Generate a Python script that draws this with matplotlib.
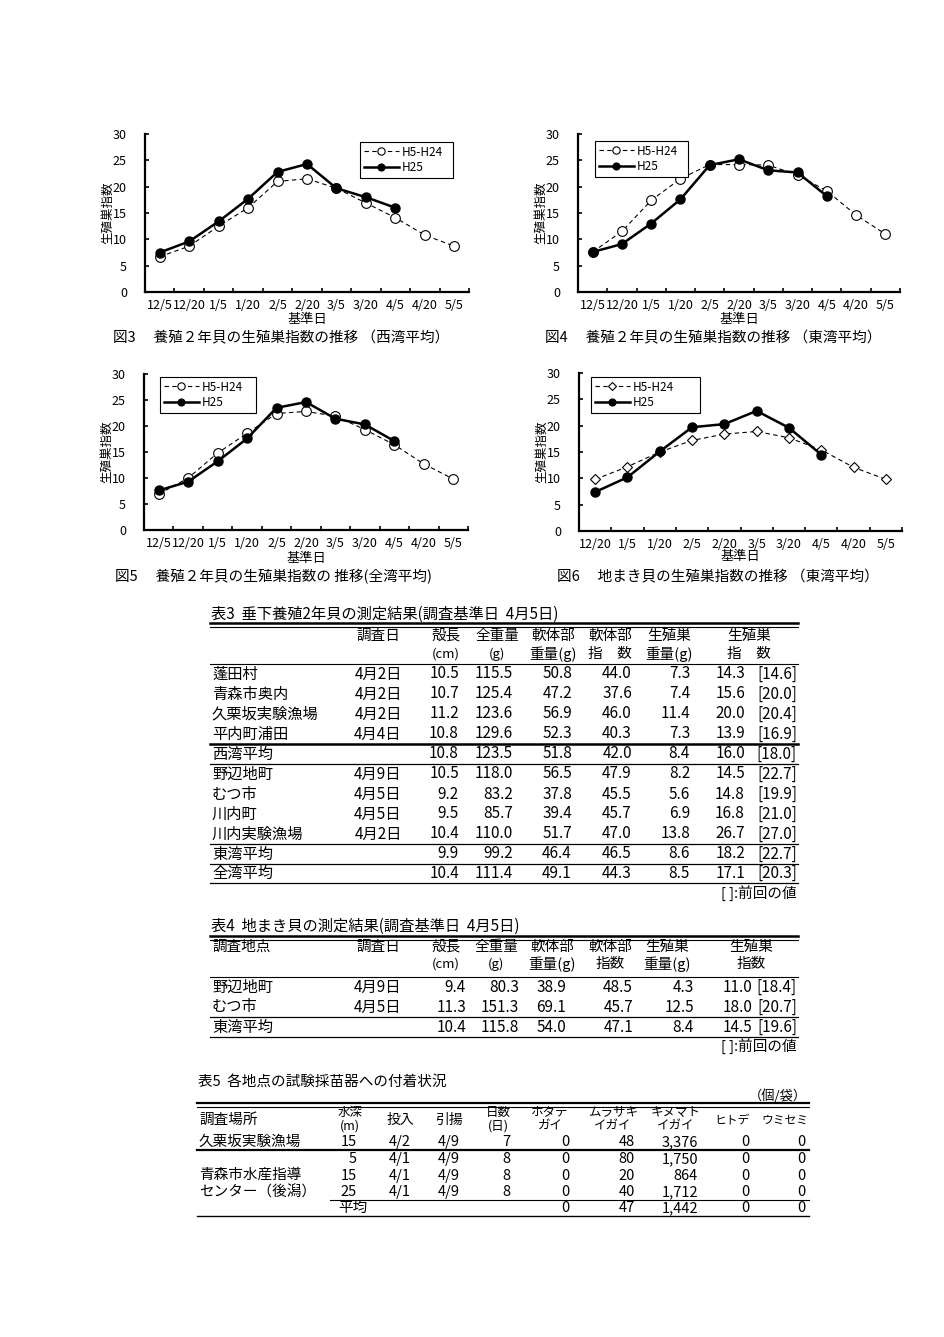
import numpy as np
import matplotlib
matplotlib.use("Agg")
import matplotlib.pyplot as plt
from matplotlib.lines import Line2D

plt.rcParams['font.family'] = ['Noto Sans CJK JP', 'DejaVu Sans']

# ---- chart data (生殖巣指数) ----
dates_a = ['12/5', '12/20', '1/5', '1/20', '2/5', '2/20', '3/5', '3/20', '4/5', '4/20', '5/5']
dates_b = ['12/20', '1/5', '1/20', '2/5', '2/20', '3/5', '3/20', '4/5', '4/20', '5/5']

west_past = [6.7, 8.7, 12.5, 16.0, 21.0, 21.5, 19.7, 16.9, 14.1, 10.8, 8.7]
west_h25 = [7.5, 9.6, 13.4, 17.7, 22.8, 24.3, 19.7, 18.0, 16.0]
east_past = [7.6, 11.5, 17.4, 21.5, 24.2, 24.2, 24.1, 22.2, 19.2, 14.6, 11.0]
east_h25 = [7.6, 9.1, 13.0, 17.6, 24.1, 25.2, 23.1, 22.7, 18.2]
all_past = [6.9, 10.0, 14.8, 18.6, 22.4, 22.8, 21.9, 19.3, 16.4, 12.7, 9.8]
all_h25 = [7.6, 9.3, 13.2, 17.6, 23.5, 24.6, 21.4, 20.3, 17.1]
jimaki_past = [9.8, 12.2, 15.0, 17.2, 18.4, 18.9, 17.7, 15.4, 12.1, 9.8]
jimaki_h25 = [7.4, 10.2, 15.1, 19.7, 20.3, 22.8, 19.6, 14.5]

# ---- table 3 ----
t3_sites = ['蓬田村', '青森市奥内', '久栗坂実験漁場', '平内町浦田', '西湾平均',
            '野辺地町', 'むつ市', '川内町', '川内実験漁場', '東湾平均', '全湾平均']
t3_dates = ['4月2日', '4月2日', '4月2日', '4月4日', '', '4月9日', '4月5日', '4月5日', '4月2日', '', '']
t3_shell = [10.5, 10.7, 11.2, 10.8, 10.8, 10.5, 9.2, 9.5, 10.4, 9.9, 10.4]
t3_total = [115.5, 125.4, 123.6, 129.6, 123.5, 118.0, 83.2, 85.7, 110.0, 99.2, 111.4]
t3_soft = [50.8, 47.2, 56.9, 52.3, 51.8, 56.5, 37.8, 39.4, 51.7, 46.4, 49.1]
t3_soft_idx = [44.0, 37.6, 46.0, 40.3, 42.0, 47.9, 45.5, 45.7, 47.0, 46.5, 44.3]
t3_gonad = [7.3, 7.4, 11.4, 7.3, 8.4, 8.2, 5.6, 6.9, 13.8, 8.6, 8.5]
t3_gsi = [14.3, 15.6, 20.0, 13.9, 16.0, 14.5, 14.8, 16.8, 26.7, 18.2, 17.1]
t3_prev = [14.6, 20.0, 20.4, 16.9, 18.0, 22.7, 19.9, 21.0, 27.0, 22.7, 20.3]

# ---- table 4 ----
t4_sites = ['野辺地町', 'むつ市', '東湾平均']
t4_dates = ['4月9日', '4月5日', '']
t4_shell = [9.4, 11.3, 10.4]
t4_total = [80.3, 151.3, 115.8]
t4_soft = [38.9, 69.1, 54.0]
t4_soft_idx = [48.5, 45.7, 47.1]
t4_gonad = [4.3, 12.5, 8.4]
t4_gsi = [11.0, 18.0, 14.5]
t4_prev = [18.4, 20.7, 19.6]

# ---- table 5 ----
t5_depth = [15, 5, 15, 25]
t5_in = ['4/2', '4/1', '4/1', '4/1']
t5_out = ['4/9', '4/9', '4/9', '4/9']
t5_days = [7, 8, 8, 8]
t5_hotate = [0, 0, 0, 0]
t5_murasaki = [48, 80, 20, 40]
t5_kinumato = [3376, 1750, 864, 1712]
t5_hitode = [0, 0, 0, 0]
t5_umisemi = [0, 0, 0, 0]
t5_mean = [0, 47, 1442, 0, 0]

W, H = 944, 1337
fig = plt.figure(figsize=(W / 100, H / 100), dpi=100)


def fx(x):
    return x / W


def fy(y):
    return 1 - y / H


def put(x, y, s, ha='left', size=11, **kw):
    fig.text(fx(x), fy(y), s, ha=ha, va='center', fontsize=size, **kw)


def hline(x0, x1, y, lw=0.8):
    fig.add_artist(Line2D([fx(x0), fx(x1)], [fy(y), fy(y)], color='black',
                          lw=lw, transform=fig.transFigure))


def draw_chart(box, cats, past, h25, mk, caption, cap_x, cap_y, xlab_y, leg_box):
    l, t, r, b = box
    ax = fig.add_axes([fx(l), fy(b), fx(r) - fx(l), fy(t) - fy(b)])
    x = np.arange(len(cats))
    ax.plot(x[:len(past)], past, ls=(0, (4, 3)), lw=0.8, color='black', marker=mk,
            ms=7 if mk == 'o' else 5, mfc='white', mec='black', mew=0.8, label='H5-H24')
    ax.plot(x[:len(h25)], h25, '-', lw=1.8, color='black', marker='o', ms=6.5, label='H25')
    ax.set_xlim(-0.5, len(cats) - 0.5)
    ax.set_ylim(0, 30)
    ax.set_yticks(range(0, 31, 5))
    ax.set_xticks(x)
    ax.set_xticklabels(cats)
    ax.set_xticks(x + 0.5, minor=True)
    ax.tick_params(axis='x', which='major', length=0, pad=5, labelsize=9)
    ax.tick_params(axis='x', which='minor', direction='in', length=3, width=1.2)
    ax.tick_params(axis='y', direction='in', length=3, width=1.2, pad=13, labelsize=9)
    for s in ['top', 'right']:
        ax.spines[s].set_visible(False)
    for s in ['left', 'bottom']:
        ax.spines[s].set_linewidth(1.6)
    ax.patch.set_alpha(0)
    put(l - 37, (t + b) / 2, '生殖巣指数', ha='center', size=9, rotation=90)
    put((l + r) / 2, xlab_y, '基準日', ha='center', size=9.5)
    put(cap_x, cap_y, caption, size=10.5)
    lx0, ly0, lx1, ly1 = leg_box
    leg = ax.legend(loc='upper left',
                    bbox_to_anchor=(fx(lx0), fy(ly1), fx(lx1) - fx(lx0), fy(ly0) - fy(ly1)),
                    bbox_transform=fig.transFigure, mode='expand', borderaxespad=0, fontsize=8.5,
                    handlelength=3.0, handletextpad=0.2, labelspacing=0.25, borderpad=0.3,
                    markerscale=0.75, fancybox=False, framealpha=1, edgecolor='black')
    leg.get_frame().set_linewidth(0.8)


draw_chart((145, 134, 469, 292), dates_a, west_past, west_h25, 'o',
           '図3　 養殖２年貝の生殖巣指数の推移 （西湾平均）', 113, 338, 320, (360, 142, 453, 176))
draw_chart((578, 134, 900, 292), dates_a, east_past, east_h25, 'o',
           '図4　 養殖２年貝の生殖巣指数の推移 （東湾平均）', 545, 338, 320, (595, 141, 688, 169))
draw_chart((144, 374, 468, 530), dates_a, all_past, all_h25, 'o',
           '図5　 養殖２年貝の生殖巣指数の 推移(全湾平均)', 115, 577, 558, (160, 377, 256, 405))
draw_chart((579, 373, 902, 531), dates_b, jimaki_past, jimaki_h25, 'D',
           '図6　 地まき貝の生殖巣指数の推移 （東湾平均）', 557, 577, 557, (591, 377, 700, 403))

# ---- table 3 ----
put(211, 614, '表3  垂下養殖2年貝の測定結果(調査基準日  4月5日)', size=11)
hline(210, 798, 623, lw=1.8)
hline(210, 798, 626.5, lw=0.8)
for cx, a, bb in [(378, '調査日', ''), (446, '殻長', '(cm)'), (497, '全重量', '(g)'),
                  (553, '軟体部', '重量(g)'), (610, '軟体部', '指　数'),
                  (669, '生殖巣', '重量(g)'), (749, '生殖巣', '指　数')]:
    put(cx, 636, a, ha='center', size=10.5)
    if bb:
        put(cx, 654, bb, ha='center', size=9.5 if bb.startswith('(') else 10.5)
hline(210, 798, 664, lw=0.8)
t3_y = [674, 694, 714, 734, 754, 774, 794, 814, 834, 854, 873]
for i, y in enumerate(t3_y):
    put(212, y, t3_sites[i], size=11)
    if t3_dates[i]:
        put(378, y, t3_dates[i], ha='center', size=11)
    put(459, y, f'{t3_shell[i]:.1f}', ha='right', size=11)
    put(513, y, f'{t3_total[i]:.1f}', ha='right', size=11)
    put(572, y, f'{t3_soft[i]:.1f}', ha='right', size=11)
    put(632, y, f'{t3_soft_idx[i]:.1f}', ha='right', size=11)
    put(690, y, f'{t3_gonad[i]:.1f}', ha='right', size=11)
    put(745, y, f'{t3_gsi[i]:.1f}', ha='right', size=11)
    put(797, y, f'[{t3_prev[i]:.1f}]', ha='right', size=11)
hline(210, 798, 744, lw=1.8)
for y in [764, 844, 864, 883]:
    hline(210, 798, y, lw=0.9)
put(797, 893, '[ ]:前回の値', ha='right', size=10.5)

# ---- table 4 ----
put(211, 926, '表4  地まき貝の測定結果(調査基準日  4月5日)', size=11)
hline(210, 798, 936, lw=1.8)
hline(210, 798, 939.5, lw=0.8)
put(212, 947, '調査地点', size=10.5)
for cx, a, bb in [(378, '調査日', ''), (446, '殻長', '(cm)'), (496, '全重量', '(g)'),
                  (552, '軟体部', '重量(g)'), (610, '軟体部', '指数'),
                  (667, '生殖巣', '重量(g)'), (751, '生殖巣', '指数')]:
    put(cx, 947, a, ha='center', size=10.5)
    if bb:
        put(cx, 964, bb, ha='center', size=9.5 if bb.startswith('(') else 10.5)
hline(210, 798, 977, lw=0.8)
t4_y = [987, 1007, 1027]
for i, y in enumerate(t4_y):
    put(212, y, t4_sites[i], size=11)
    if t4_dates[i]:
        put(378, y, t4_dates[i], ha='center', size=11)
    put(466, y, f'{t4_shell[i]:.1f}', ha='right', size=11)
    put(519, y, f'{t4_total[i]:.1f}', ha='right', size=11)
    put(566, y, f'{t4_soft[i]:.1f}', ha='right', size=11)
    put(633, y, f'{t4_soft_idx[i]:.1f}', ha='right', size=11)
    put(694, y, f'{t4_gonad[i]:.1f}', ha='right', size=11)
    put(752, y, f'{t4_gsi[i]:.1f}', ha='right', size=11)
    put(797, y, f'[{t4_prev[i]:.1f}]', ha='right', size=11)
hline(210, 798, 1017, lw=0.9)
hline(210, 798, 1037, lw=0.9)
put(797, 1046, '[ ]:前回の値', ha='right', size=10.5)

# ---- table 5 ----
put(198, 1082, '表5  各地点の試験採苗器への付着状況', size=10.5)
put(807, 1096, '（個/袋）', ha='right', size=9.5)
hline(197, 809, 1103, lw=1.6)
hline(197, 809, 1106.5, lw=0.8)
put(199, 1120, '調査場所', size=10.5)
for cx, a, bb in [(350, '水深', '(m)'), (498, '日数', '(日)'), (550, 'ホタテ', 'ガイ'),
                  (613, 'ムラサキ', 'イガイ'), (676, 'キヌマト', 'イガイ')]:
    put(cx, 1112, a, ha='center', size=9)
    put(cx, 1126, bb, ha='center', size=9)
for cx, a in [(400, '投入'), (449, '引揚'), (732, 'ヒトデ'), (785, 'ウミセミ')]:
    put(cx, 1120, a, ha='center', size=10 if len(a) == 2 else 8.5)
t5_y = [1142, 1159, 1176, 1192]
put(199, 1142, '久栗坂実験漁場', size=10.5)
put(199, 1175, '青森市水産指導', size=10.5)
put(199, 1192, 'センター（後潟）', size=10.5)
for i, y in enumerate(t5_y):
    put(357, y, str(t5_depth[i]), ha='right', size=10.5)
    put(400, y, t5_in[i], ha='center', size=10.5)
    put(449, y, t5_out[i], ha='center', size=10.5)
    put(510, y, str(t5_days[i]), ha='right', size=10.5)
    put(569, y, f'{t5_hotate[i]:,}', ha='right', size=10.5)
    put(635, y, f'{t5_murasaki[i]:,}', ha='right', size=10.5)
    put(698, y, f'{t5_kinumato[i]:,}', ha='right', size=10.5)
    put(750, y, f'{t5_hitode[i]:,}', ha='right', size=10.5)
    put(806, y, f'{t5_umisemi[i]:,}', ha='right', size=10.5)
put(338, 1208, '平均', size=10.5)
for cx, v in zip([569, 635, 698, 750, 806], t5_mean):
    put(cx, 1208, f'{v:,}', ha='right', size=10.5)
hline(197, 809, 1150, lw=1.6)
hline(330, 809, 1200, lw=0.8)
hline(197, 809, 1216, lw=1.0)

fig.savefig('out.png', dpi=100)
